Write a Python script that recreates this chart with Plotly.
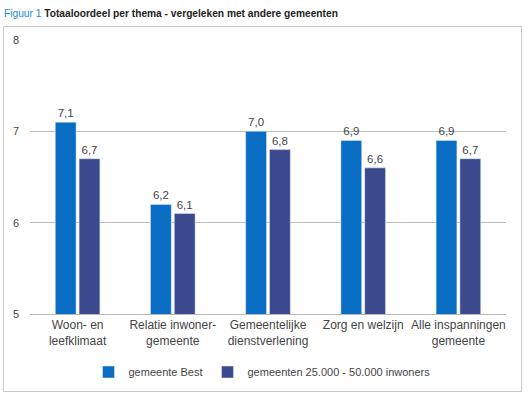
import plotly.graph_objects as go

categories = ["Woon- en<br>leefklimaat", "Relatie inwoner-<br>gemeente", "Gemeentelijke<br>dienstverlening",
              "Zorg en welzijn", "Alle inspanningen<br>gemeente"]
best = [7.1, 6.2, 7.0, 6.9, 6.9]
others = [6.7, 6.1, 6.8, 6.6, 6.7]
series_names = ["gemeente Best", "gemeenten 25.000 - 50.000 inwoners"]
y_ticks = [5, 6, 7, 8]

W, H = 528, 397
ml, mr, mt, mb = 30, 22, 40, 83
FONT = "Liberation Sans, Arial, sans-serif"

def fmt(v):
    return f"{v:.1f}".replace(".", ",")

fig = go.Figure()
fig.add_trace(go.Bar(x=categories, y=best, name=series_names[0], marker_color="#0a6dc4",
                     text=[fmt(v) for v in best], textposition="outside", cliponaxis=False,
                     textfont=dict(size=11.5, color="#454545")))
fig.add_trace(go.Bar(x=categories, y=others, name=series_names[1], marker_color="#3b4a8e",
                     text=[fmt(v) for v in others], textposition="outside", cliponaxis=False,
                     textfont=dict(size=11.5, color="#454545")))

def cx(x):
    return x / W
def cy(y):
    return 1 - y / H

PW, PH = W - ml - mr, H - mt - mb

fig.update_layout(
    width=W, height=H,
    margin=dict(l=ml, r=mr, t=mt, b=mb, autoexpand=False),
    paper_bgcolor="white", plot_bgcolor="white",
    barmode="group", bargap=0.5, bargroupgap=0.125,
    font=dict(family=FONT, size=12, color="#454545"),
    showlegend=True,
    legend=dict(orientation="h", xref="container", yref="container",
                x=cx(262), xanchor="center", y=cy(372), yanchor="middle",
                font=dict(size=11, color="#454545"), itemwidth=30, traceorder="normal"),
    xaxis=dict(showline=True, linecolor="#b8b8b8", linewidth=1, ticks="", automargin=False,
               tickfont=dict(size=12, color="#454545"), fixedrange=True),
    yaxis=dict(range=[5, 8], tickvals=y_ticks, ticktext=[str(t) for t in y_ticks],
               showgrid=True, gridcolor="#bdbdbd", gridwidth=1, zeroline=False, automargin=False,
               showline=False, ticks="", tickfont=dict(size=11, color="#454545"),
               ticklabelstandoff=10, fixedrange=True),
    shapes=[dict(type="rect", xref="paper", yref="paper",
                 x0=(3.5 - ml) / PW, x1=(521.5 - ml) / PW,
                 y0=(H - mb - 391.5) / PH, y1=(H - mb - 26.5) / PH,
                 line=dict(color="#c8c8c8", width=1), fillcolor="rgba(0,0,0,0)", layer="below")],
    annotations=[dict(xref="paper", yref="paper",
                      x=(2 - ml) / PW, y=(H - mb - 13) / PH,
                      xanchor="left", yanchor="middle", showarrow=False,
                      text="<span style='color:#1e8ad6'>Figuur 1</span> <b>Totaaloordeel per thema - vergeleken met andere gemeenten</b>",
                      font=dict(size=10.2, color="#222222", family=FONT))],
)

fig.write_html("out.html", config={"displayModeBar": False},
               post_script="document.body.style.margin='0';document.body.style.overflow='hidden';")
